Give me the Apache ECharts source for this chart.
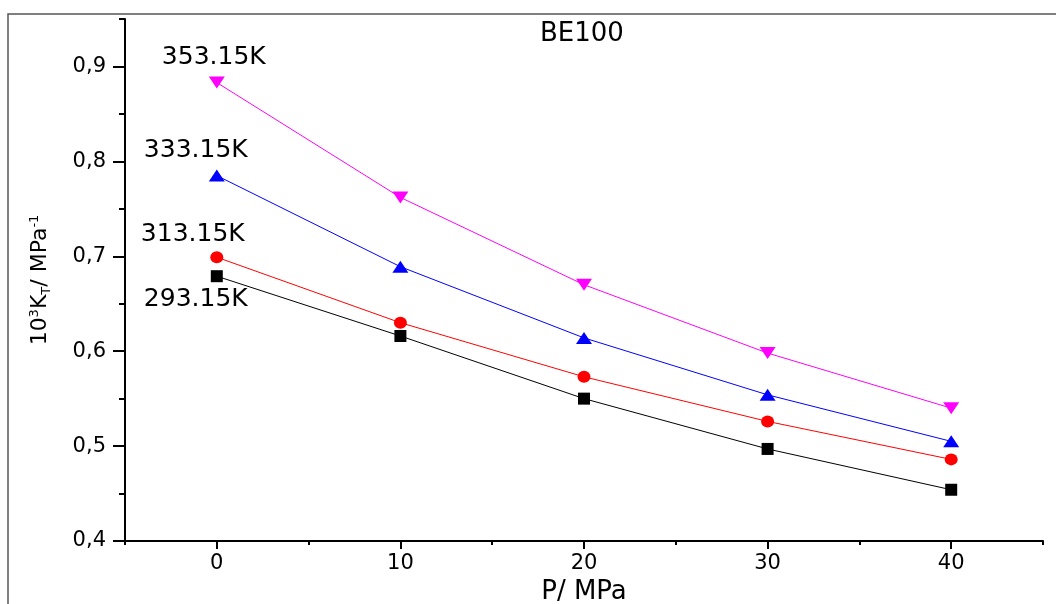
<!DOCTYPE html>
<html>
<head>
<meta charset="utf-8">
<style>html,body{margin:0;padding:0;background:#fff;}#c{width:1056px;height:604px;}</style>
<script src="https://cdn.jsdelivr.net/npm/echarts@6/dist/echarts.min.js"></script>
</head>
<body>
<div id="c"></div>
<script>
const pressures = [0, 10, 20, 30, 40];
const k293 = [0.679, 0.616, 0.550, 0.497, 0.454];
const k313 = [0.699, 0.630, 0.573, 0.526, 0.486];
const k333 = [0.785, 0.689, 0.614, 0.554, 0.505];
const k353 = [0.883, 0.762, 0.670, 0.598, 0.540];
const seriesNames = ['293.15K', '313.15K', '333.15K', '353.15K'];
const xMajor = [0, 10, 20, 30, 40];
const xMinor = [-5, 5, 15, 25, 35, 45];
const yMajor = [0.4, 0.5, 0.6, 0.7, 0.8, 0.9];
const yMinor = [0.45, 0.55, 0.65, 0.75, 0.85, 0.95];
const titleText = 'BE100';

const FONT = 'DejaVu Sans';
const chart = echarts.init(document.getElementById('c'), null, {renderer: 'canvas'});

function mk(name, vals, color, symbol, size, rotate, labelOffset) {
  const data = pressures.map((p, i) => {
    const item = {value: [p, vals[i]]};
    if (i === 0) {
      item.label = {
        show: true, formatter: name, position: 'inside', offset: labelOffset,
        color: '#000', fontFamily: FONT, fontSize: 25
      };
    }
    return item;
  });
  return {
    name, type: 'line', data, xAxisIndex: 0, yAxisIndex: 0,
    symbol, symbolSize: size, symbolRotate: rotate, showAllSymbol: true,
    itemStyle: {color}, lineStyle: {color, width: 1},
    emphasis: {disabled: true}, z: 3, animation: false
  };
}

const axisLineStyle = {show: true, onZero: false, lineStyle: {color: '#000', width: 2}};

chart.setOption({
  animation: false,
  title: {
    text: titleText, left: 535, top: 16,
    textStyle: {fontFamily: FONT, fontSize: 26, fontWeight: 'normal', color: '#000'}
  },
  graphic: [{
    type: 'rect', shape: {x: 8, y: 14, width: 1200, height: 800},
    style: {fill: 'none', stroke: '#555', lineWidth: 1.5}, silent: true, z: -1
  }],
  grid: {left: 125, right: 13, top: 19, bottom: 63, containLabel: false, outerBoundsMode: 'none'},
  xAxis: [{
    type: 'value', min: -5, max: 45, interval: 5,
    axisLine: axisLineStyle,
    axisTick: {show: true, customValues: xMajor, length: 8, lineStyle: {color: '#000', width: 2}},
    axisLabel: {customValues: xMajor, margin: 12, color: '#000', fontFamily: FONT, fontSize: 21},
    splitLine: {show: false},
    name: 'P/ MPa', nameLocation: 'middle', nameGap: 36,
    nameTextStyle: {fontFamily: FONT, fontSize: 26, color: '#000'}
  }, {
    type: 'value', min: -5, max: 45, interval: 5, position: 'bottom',
    axisLine: {show: false, onZero: false},
    axisTick: {show: true, customValues: xMinor, length: 4, lineStyle: {color: '#000', width: 2}},
    axisLabel: {show: false}, splitLine: {show: false}
  }],
  yAxis: [{
    type: 'value', min: 0.4, max: 0.95, interval: 0.05,
    axisLine: axisLineStyle,
    axisTick: {show: true, customValues: yMajor, length: 12, lineStyle: {color: '#000', width: 2}},
    axisLabel: {customValues: yMajor, margin: 19, color: '#000', fontFamily: FONT, fontSize: 21,
      formatter: v => v.toFixed(1).replace('.', ',')},
    splitLine: {show: false},
    name: '10{sup|3}K{sub|T}/ MPa{sup|-1}', nameLocation: 'middle', nameGap: 72, nameRotate: 90,
    nameTextStyle: {
      fontFamily: FONT, fontSize: 22, color: '#000',
      rich: {
        sup: {fontFamily: FONT, fontSize: 13, color: '#000', verticalAlign: 'top', padding: [0, 0, 12, 0]},
        sub: {fontFamily: FONT, fontSize: 13, color: '#000', verticalAlign: 'bottom', padding: [10, 0, 0, 0]}
      }
    }
  }, {
    type: 'value', min: 0.4, max: 0.95, interval: 0.05, position: 'left',
    axisLine: {show: false, onZero: false},
    axisTick: {show: true, customValues: yMinor, length: 6, lineStyle: {color: '#000', width: 2}},
    axisLabel: {show: false}, splitLine: {show: false}
  }],
  series: [
    mk(seriesNames[0], k293, '#000000', 'rect', 12, 0, [-21, 23]),
    mk(seriesNames[1], k313, '#FF0000', 'circle', [13, 12], 0, [-24, -23]),
    mk(seriesNames[2], k333, '#0000FF', 'triangle', [16, 12], 0, [-21, -25]),
    mk(seriesNames[3], k353, '#FF00FF', 'triangle', [16, 12], 180, [-3, -25])
  ]
});
</script>
</body>
</html>
